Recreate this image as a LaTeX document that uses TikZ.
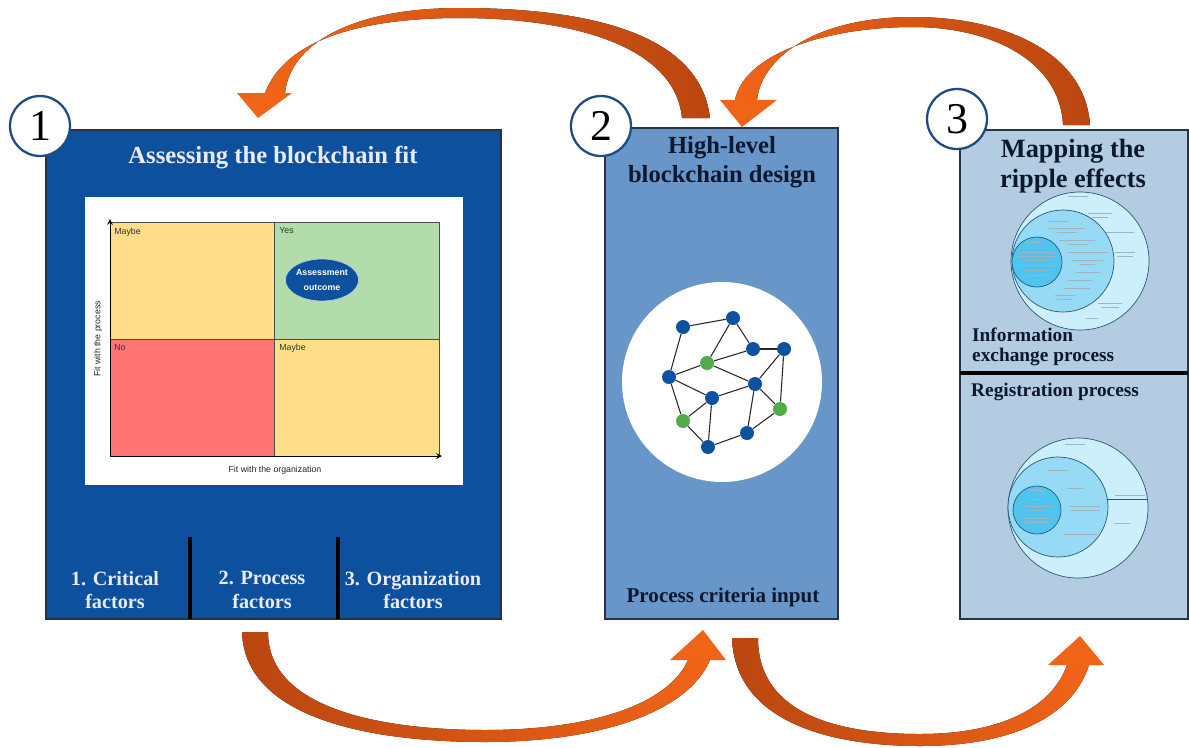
\documentclass[tikz,border=0pt]{standalone}
\usepackage{fontspec}
\newfontfamily\arialfont{Liberation Sans}
\newfontfamily\titlefont{Liberation Serif}
\usetikzlibrary{positioning,shapes.geometric,calc}

\definecolor{panelone}{RGB}{12,80,158}
\definecolor{paneltwo}{RGB}{104,150,200}
\definecolor{panelthree}{RGB}{180,204,226}
\definecolor{frame}{RGB}{40,50,70}
\definecolor{navytext}{RGB}{12,24,48}
\definecolor{numblue}{RGB}{30,75,130}
\definecolor{qyellow}{RGB}{255,222,137}
\definecolor{qgreen}{RGB}{178,221,170}
\definecolor{qred}{RGB}{255,117,117}
\definecolor{netblue}{RGB}{12,82,160}
\definecolor{netgreen}{RGB}{82,170,72}
\definecolor{ringout}{RGB}{205,238,251}
\definecolor{ringmid}{RGB}{150,218,245}
\definecolor{ringin}{RGB}{78,196,238}
\definecolor{ringline}{RGB}{40,90,115}
\definecolor{arrowdark}{RGB}{186,70,16}
\definecolor{arrowlight}{RGB}{240,100,24}

\begin{document}
\begin{tikzpicture}[x=0.02cm,y=-0.02cm,
    numcircle/.style={circle, draw=numblue, line width=1.3pt, fill=white, minimum size=1.2cm, inner sep=0pt, font=\titlefont\fontsize{25}{25}\selectfont},
    titlew/.style={font=\titlefont\fontsize{14}{16}\selectfont\bfseries, text=white!92!blue, align=center},
    titled/.style={font=\titlefont\fontsize{14}{16.5}\selectfont\bfseries, text=navytext, align=center},
    factor/.style={font=\titlefont\fontsize{11.5}{13.5}\selectfont\bfseries, text=white!92!blue, align=center},
    subd/.style={font=\titlefont\fontsize{11}{11.5}\selectfont\bfseries, text=navytext, align=left},
    qline/.style={draw=black!70, line width=0.4pt},
    qlabel/.style={font=\arialfont\fontsize{5}{6}\selectfont, text=black!80, anchor=west, inner sep=0pt},
    axlabel/.style={font=\arialfont\fontsize{5}{6}\selectfont, text=black!85},
    netnode/.style={circle, inner sep=0pt, minimum size=0.28cm, fill=netblue},
    greennode/.style={netnode, fill=netgreen},
    netedge/.style={black!85, line width=0.6pt},
    ring/.style={draw=ringline, line width=0.4pt},
    txtline/.style={ringline!45, line width=0.4pt}]

    \useasboundingbox (0,0) rectangle (1189,747);
    \fill[white] (0,0) rectangle (1189,747);

    % Panel 1
    \draw[draw=frame, line width=0.8pt, fill=panelone] (46,130) rectangle (501,619);
    \node[titlew] (t1) at (273,158) {Assessing the blockchain fit};

    % Fit matrix
    \fill[white] (85,197) rectangle (463,485);
    \draw[qline, fill=qyellow] (110,222) rectangle (274,339);
    \draw[qline, fill=qgreen] (274,222) rectangle (439,339);
    \draw[qline, fill=qred] (110,339) rectangle (274,456);
    \draw[qline, fill=qyellow] (274,339) rectangle (439,456);
    \draw[->, >=stealth, line width=0.5pt] (110,456) -- (110,219);
    \draw[->, >=stealth, line width=0.5pt] (110,456) -- (442,456);
    \node[qlabel] (q1) at (114,232) {Maybe};
    \node[qlabel] (q2) at (279,231) {Yes};
    \node[qlabel] (q3) at (114,348) {No};
    \node[qlabel] (q4) at (279,348) {Maybe};
    \node[axlabel, rotate=90] (ylab) at (98,339) {Fit with the process};
    \node[axlabel] (xlab) at (275,470) {Fit with the organization};
    \node[ellipse, fill=panelone, draw=white!70!panelone, line width=0.4pt, minimum width=1.32cm, minimum height=0.84cm, inner sep=0pt,
          font=\arialfont\bfseries\fontsize{5}{9}\selectfont, text=white, align=center] (outcome) at (322,280) {Assessment\\outcome};

    % Factors
    \draw[line width=1.8pt, black] (190,537) -- (190,619);
    \draw[line width=1.8pt, black] (338,537) -- (338,619);
    \node[factor] (f1) at (115,590) {1. Critical\\factors};
    \node[factor] (f2) at (262,590) {2. Process\\factors};
    \node[factor] (f3) at (413,590) {3. Organization\\factors};

    % Panel 2
    \draw[draw=frame, line width=0.8pt, fill=paneltwo] (605,128) rectangle (838,619);
    \node[titled] (t2) at (722,162) {High-level\\blockchain design};
    \node[titled, font=\titlefont\fontsize{12}{13}\selectfont\bfseries] (pci) at (723,597) {Process criteria input};

    % Network
    \fill[white] (722,382) circle (100);
    \node[netnode] (v1) at (683,327) {};
    \node[netnode] (v2) at (733,318) {};
    \node[netnode] (v3) at (753,349) {};
    \node[netnode] (v4) at (784,349) {};
    \node[greennode] (v5) at (707,363) {};
    \node[netnode] (v6) at (669,377) {};
    \node[netnode] (v7) at (755,384) {};
    \node[netnode] (v8) at (712,398) {};
    \node[greennode] (v9) at (780,409) {};
    \node[greennode] (v10) at (683,421) {};
    \node[netnode] (v11) at (747,433) {};
    \node[netnode] (v12) at (708,447) {};
    \foreach \a/\b in {v1/v2,v1/v6,v2/v5,v2/v3,v3/v4,v5/v3,v5/v6,v5/v7,v6/v8,v6/v10,v8/v7,v8/v10,v8/v12,v7/v4,v7/v9,v7/v11,v4/v9,v9/v11,v11/v12,v10/v12}
        \draw[netedge] (\a) -- (\b);

    % Panel 3
    \draw[draw=frame, line width=0.8pt, fill=panelthree] (960,130) rectangle (1188,619);
    \draw[line width=1.8pt, black] (960,373) -- (1188,373);
    \node[titled, font=\titlefont\fontsize{15}{17}\selectfont\bfseries] (t3) at (1073,166) {Mapping the\\ripple effects};
    \node[subd, anchor=west] (info) at (966,347) {Information\\exchange process};
    \node[subd, anchor=west] (reg) at (965,392) {Registration process};

    % Ripple circles, information exchange
    \draw[ring, fill=ringout] (1080,261) circle (69);
    \draw[ring, fill=ringmid] (1063,261) circle (51);
    \draw[ring, fill=ringin] (1037,262) circle (25);
    \foreach \x/\y/\w in {1078/196/10,1100/213/12,1100/217/8,1120/232/14,1125/252/10,1125/256/8,1110/303/12,1110/307/9,1092/318/6,
                          1058/221/10,1067/228/18,1067/232/10,1077/240/18,1077/244/10,1088/252/20,1087/260/16,1087/264/8,1088/272/12,1080/280/12,1077/288/13,1065/295/10,1065/299/8,
                          1035/242/8,1037/252/18,1037/256/19,1037/260/12,1037/265/19,1037/270/12,1037/275/10}
        \draw[txtline] (\x-\w,\y) -- (\x+\w,\y);

    % Ripple circles, registration
    \draw[ring, fill=ringout] (1078,508) circle (70);
    \draw[ring, fill=ringmid] (1058,507) circle (50);
    \draw[ring, fill=ringin] (1037,510) circle (24);
    \draw[ring] (1107,499) -- (1147,499);
    \foreach \x/\y/\w in {1075/444/10,1130/495/15,1122/523/8,
                          1058/470/10,1075/488/8,1085/506/15,1085/510/15,1080/534/17,
                          1037/490/8,1037/499/6,1037/506/15,1037/510/6,1037/518/15,1037/522/12}
        \draw[txtline] (\x-\w,\y) -- (\x+\w,\y);

    % Step numbers
    \node[numcircle] (c1) at (40,126) {1};
    \node[numcircle] (c2) at (601,126) {2};
    \node[numcircle] (c3) at (957,119) {3};

    % Arrow 2 -> 1 (top)
    \fill[left color=arrowlight, right color=arrowdark] (710,118) .. controls (700,30) and (580,8) .. (460,8) .. controls (350,8) and (290,45) .. (285,93)
        -- (265,93) .. controls (285,40) and (360,18) .. (460,18) .. controls (570,18) and (675,45) .. (682,118) -- cycle;
    \fill[arrowlight] (237,93) -- (258,118) -- (292,93) -- cycle;

    % Arrow 3 -> 2 (top)
    \fill[left color=arrowlight, right color=arrowdark] (1090,125) .. controls (1085,50) and (1000,17) .. (913,17) .. controls (820,17) and (762,55) .. (757,100)
        -- (735,100) .. controls (745,52) and (830,27) .. (913,27) .. controls (990,27) and (1060,60) .. (1063,125) -- cycle;
    \fill[arrowlight] (720,100) -- (742,127) -- (777,100) -- cycle;

    % Arrow 1 -> 2 (bottom)
    \fill[left color=arrowdark, right color=arrowlight] (242,632) .. controls (245,722) and (380,742) .. (485,742) .. controls (600,742) and (688,712) .. (710,660)
        -- (688,660) .. controls (668,705) and (590,730) .. (485,730) .. controls (390,730) and (268,712) .. (268,632) -- cycle;
    \fill[arrowlight] (670,660) -- (703,630) -- (726,660) -- cycle;

    % Arrow 2 -> 3 (bottom)
    \fill[left color=arrowdark, right color=arrowlight] (732,638) .. controls (735,722) and (830,746) .. (920,746) .. controls (1010,746) and (1072,718) .. (1089,665)
        -- (1067,665) .. controls (1052,708) and (1000,734) .. (920,734) .. controls (840,734) and (758,715) .. (758,638) -- cycle;
    \fill[arrowlight] (1048,665) -- (1080,636) -- (1104,665) -- cycle;
\end{tikzpicture}
\end{document}
